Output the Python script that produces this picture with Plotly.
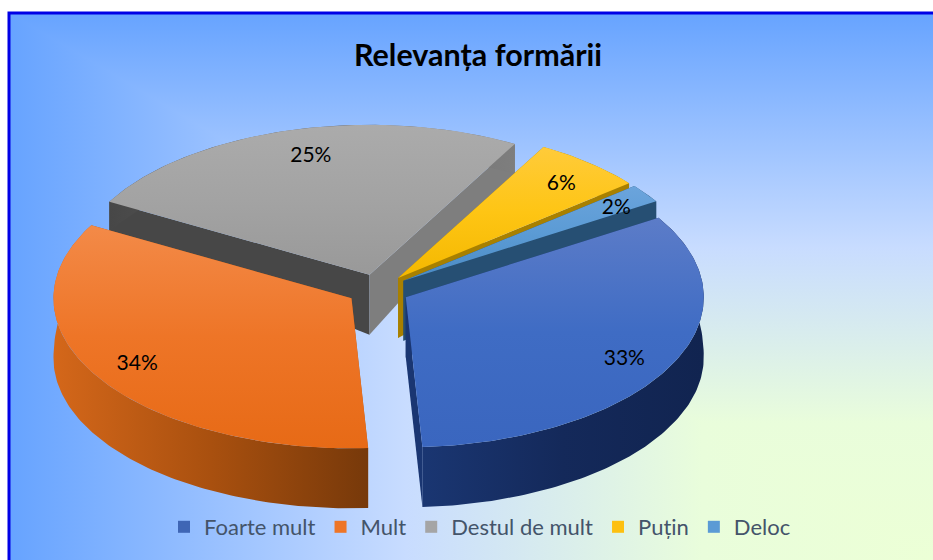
import base64
import math
import numpy as np
import plotly.graph_objects as go

# ---- data ----
categories = ["Foarte mult", "Mult", "Destul de mult", "Puțin", "Deloc"]
values = [33, 34, 25, 6, 2]
labels = ["33%", "34%", "25%", "6%", "2%"]

# ---- styles ----
W, H = 933, 560
START_DEG = 58
CX, CY, RX, RY, EXPLODE = 378, 290, 298, 150, 0.105
LABEL_R = [0.86, 0.84, 0.76, 0.80, 0.80]
LABEL_NUDGE = [(-9, 3), (-2, 0), (3, -8), (10, -1), (19, -2)]
# colours listed from the top of each surface to its bottom
TOP = [
    ["#5c7cc8", "#3f6cc4", "#3a66bf"],
    ["#f38a48", "#ee7527", "#e76a16"],
    ["#ababab", "#a3a3a3", "#999999"],
    ["#ffcb3a", "#fec514", "#f4b800"],
    ["#6ba4dc", "#5b9bd5", "#4a8ac4"],
]
OUTER = [
    ["#1a3672", "#14295a", "#112450"],
    ["#d4671a", "#a9500f", "#77390a"],
    ["#474747", "#666666", "#7e7e7e"],
    ["#a88000", "#a88000", "#a88000"],
    ["#264f73", "#264f73", "#264f73"],
]
WALL_START = ["#1a3672", "#b0560f", "#474747", "#a88000", "#264f73"]
WALL_END = ["#1a3672", "#b0560f", "#7e7e7e", "#a88000", "#264f73"]
LEGEND_COLORS = ["#3f66b5", "#ee7527", "#a5a5a5", "#fdc010", "#5b9bd5"]
DRAW_ORDER = [2, 3, 4, 1, 0]


def depth(angle):
    return float(np.clip(60 - 60 * math.cos(angle), 30, 60))


def rim(tip, angle):
    return tip[0] + RX * math.sin(angle), tip[1] - RY * math.cos(angle)


def gradient(colors, kind):
    n = len(colors) - 1
    return dict(type=kind, colorscale=[[i / n, c] for i, c in enumerate(colors)])


def polygon(xs, ys, fill=None, grad=None):
    kw = dict(x=list(xs) + [xs[0]], y=list(ys) + [ys[0]], mode="lines", fill="toself",
              line=dict(width=0), hoverinfo="skip", showlegend=False)
    if grad:
        kw["fillgradient"] = grad
    else:
        kw["fillcolor"] = fill
    return go.Scatter(**kw)


fig = go.Figure()
total = sum(values)
edges = [START_DEG]
for v in values:
    edges.append(edges[-1] + 360 * v / total)

text_x, text_y = [], []
slices = []
for i, v in enumerate(values):
    a0, a1 = math.radians(edges[i]), math.radians(edges[i + 1])
    mid = (a0 + a1) / 2
    tip = (CX + EXPLODE * RX * math.sin(mid), CY - EXPLODE * RY * math.cos(mid))
    slices.append((a0, a1, mid, tip))
    lx, ly = rim(tip, mid)
    text_x.append(tip[0] + LABEL_R[i] * (lx - tip[0]) + LABEL_NUDGE[i][0])
    text_y.append(tip[1] + LABEL_R[i] * (ly - tip[1]) + LABEL_NUDGE[i][1])

for i in DRAW_ORDER:
    a0, a1, mid, tip = slices[i]
    arc = np.linspace(a0, a1, max(6, int((a1 - a0) * 60)))
    ax, ay = zip(*[rim(tip, a) for a in arc])
    h_tip = depth(math.pi / 2)
    # radial walls
    for a, col in ((a0, WALL_START[i]), (a1, WALL_END[i])):
        ex, ey = rim(tip, a)
        fig.add_trace(polygon([tip[0], ex, ex, tip[0]],
                              [tip[1], ey, ey + depth(a), tip[1] + h_tip], fill=col))
    # outer wall
    bx = list(ax)[::-1]
    by = [y + depth(a) for y, a in zip(ay, arc)][::-1]
    fig.add_trace(polygon(list(ax) + bx, list(ay) + by, grad=gradient(OUTER[i], "horizontal")))
    # top surface (the y axis runs downwards, so the scale is reversed)
    fig.add_trace(polygon([tip[0]] + list(ax), [tip[1]] + list(ay),
                          grad=gradient(TOP[i][::-1], "vertical")))

fig.add_trace(go.Scatter(x=text_x, y=text_y, text=labels, mode="text",
                         textfont=dict(family="Lato", size=21, color="#000000"),
                         hoverinfo="skip", showlegend=False))

for name, color in zip(categories, LEGEND_COLORS):
    fig.add_trace(go.Scatter(x=[None], y=[None], mode="markers", name=name,
                             marker=dict(symbol="square", size=12, color=color)))

# background: rectangular path gradient from the bottom-right corner
L, T = 8, 12
stops = '<stop offset="0" stop-color="#ecffd6"/><stop offset="0.25" stop-color="#e9fddb"/>' \
        '<stop offset="0.57" stop-color="#c8dcff"/><stop offset="1" stop-color="#66a3ff"/>'
svg = (f'<svg xmlns="http://www.w3.org/2000/svg" width="{W}" height="{H}">'
       f'<defs><linearGradient id="h" gradientUnits="userSpaceOnUse" x1="{W}" y1="0" x2="{L}" y2="0">{stops}</linearGradient>'
       f'<linearGradient id="v" gradientUnits="userSpaceOnUse" x1="0" y1="{H}" x2="0" y2="{T}">{stops}</linearGradient></defs>'
       f'<rect width="{W}" height="{H}" fill="#ffffff"/>'
       f'<rect x="{L}" y="{T}" width="{W - L}" height="{H - T}" fill="url(#h)"/>'
       f'<polygon points="{W},{H} {L},{T} {W},{T}" fill="url(#v)"/></svg>')
uri = "data:image/svg+xml;base64," + base64.b64encode(svg.encode()).decode()

fig.update_layout(
    width=W, height=H, margin=dict(l=0, r=0, t=0, b=0),
    paper_bgcolor="#ffffff", plot_bgcolor="rgba(0,0,0,0)",
    xaxis=dict(range=[0, W], visible=False, fixedrange=True),
    yaxis=dict(range=[H, 0], visible=False, fixedrange=True),
    title=dict(text="<b>Relevanța formării</b>", x=478 / W, xanchor="center",
               y=1 - 55 / H, yanchor="middle",
               font=dict(family="Lato", size=30.5, color="#000000")),
    legend=dict(orientation="h", x=480 / W, xanchor="center", y=1 - 527 / H, yanchor="middle",
                bgcolor="rgba(0,0,0,0)", font=dict(family="Lato", size=22, color="#44546a"),
                itemsizing="constant", itemclick=False, itemdoubleclick=False),
    images=[dict(source=uri, xref="x", yref="y", x=0, y=0, sizex=W, sizey=H,
                 sizing="stretch", layer="below", xanchor="left", yanchor="top")],
    shapes=[dict(type="rect", xref="x", yref="y", x0=L + 1, y0=T + 1, x1=W + 10, y1=H + 10,
                 line=dict(color="#0000e6", width=3), layer="above")],
)

fig.write_html("out.html", config=dict(displayModeBar=False),
               post_script="document.body.style.margin='0';window.dispatchEvent(new Event('resize'));")
